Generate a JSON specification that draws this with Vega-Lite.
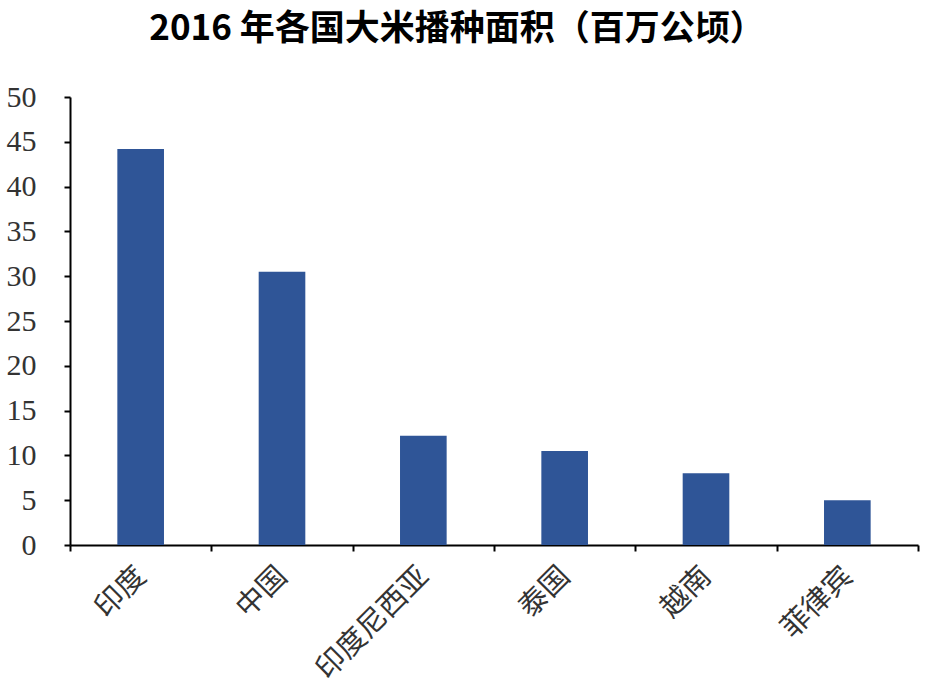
{
  "$schema": "https://vega.github.io/schema/vega-lite/v6.json",
  "autosize": {"type": "none"},
  "width": 848,
  "height": 448,
  "padding": {"left": 70, "top": 97, "right": 12, "bottom": 149},
  "background": "white",
  "title": {
    "text": "2016 年各国大米播种面积（百万公顷）",
    "font": "Noto Sans CJK SC",
    "fontSize": 35,
    "fontWeight": "bold",
    "color": "#000000",
    "anchor": "middle",
    "dx": -37,
    "offset": 35
  },
  "data": {
    "values": [
      {"country": "印度", "area": 44.2},
      {"country": "中国", "area": 30.5},
      {"country": "印度尼西亚", "area": 12.2},
      {"country": "泰国", "area": 10.5},
      {"country": "越南", "area": 8.0},
      {"country": "菲律宾", "area": 5.0}
    ]
  },
  "mark": {"type": "bar", "color": "#2F5597", "width": {"band": 0.33}},
  "encoding": {
    "x": {
      "field": "country",
      "type": "nominal",
      "sort": null,
      "title": null,
      "scale": {"paddingInner": 0, "paddingOuter": 0},
      "axis": {
        "labelAngle": -45,
        "labelAlign": "right",
        "labelBaseline": "middle",
        "labelFont": "Noto Sans CJK SC",
        "labelFontSize": 29,
        "labelColor": "#333333",
        "labelPadding": 20,
        "domainColor": "#000000",
        "domainWidth": 2,
        "tickColor": "#000000",
        "tickWidth": 2,
        "tickSize": 6,
        "tickBand": "extent"
      }
    },
    "y": {
      "field": "area",
      "type": "quantitative",
      "title": null,
      "scale": {"domain": [0, 50], "nice": false},
      "axis": {
        "values": [0, 5, 10, 15, 20, 25, 30, 35, 40, 45, 50],
        "grid": false,
        "labelFont": "Liberation Serif",
        "labelFontSize": 30,
        "labelColor": "#333333",
        "labelPadding": 28,
        "domainColor": "#000000",
        "domainWidth": 2,
        "tickColor": "#000000",
        "tickWidth": 2,
        "tickSize": 6
      }
    }
  },
  "config": {"view": {"stroke": null}}
}
